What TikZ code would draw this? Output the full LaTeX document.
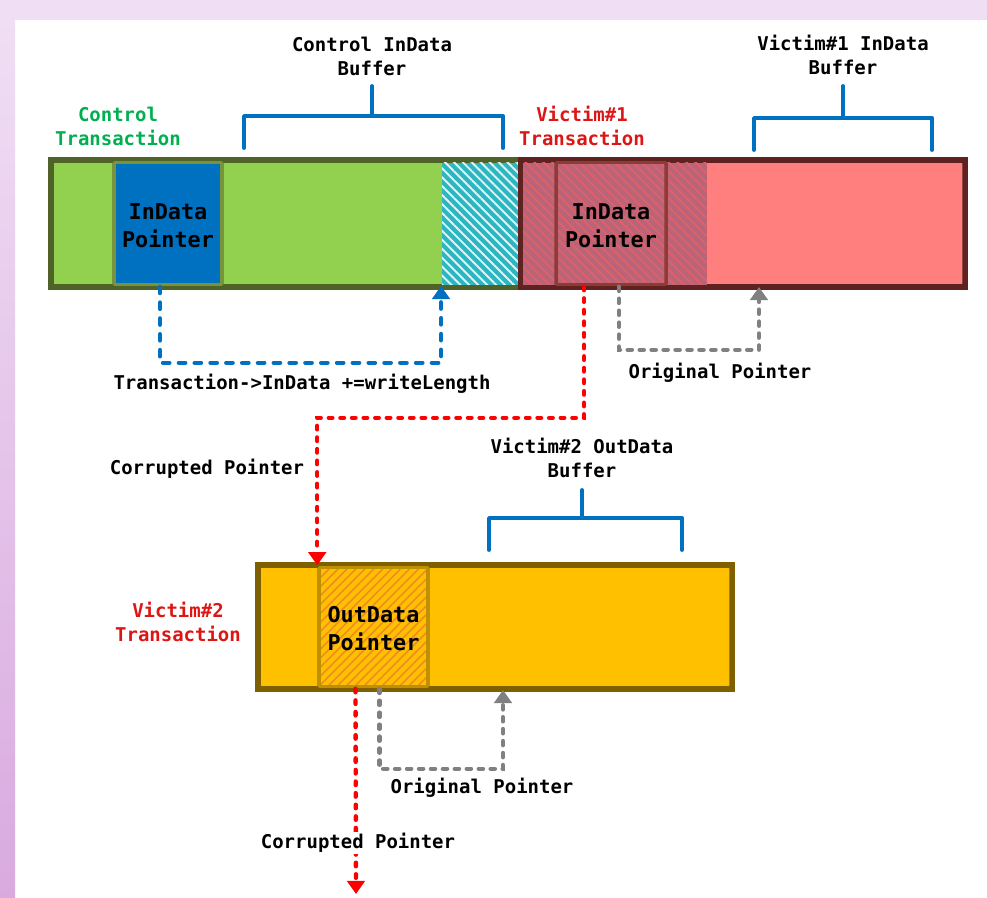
\documentclass[tikz,border=0pt]{standalone}
\usepackage{fontspec}
\usetikzlibrary{arrows.meta,fit,patterns.meta}
\newfontfamily\monofnt{DejaVu Sans Mono}

\definecolor{slidetop}{HTML}{F0DEF4}
\definecolor{slidebot}{HTML}{D9AADF}
\definecolor{ctlgreen}{HTML}{92D050}
\definecolor{ctlborder}{HTML}{4F6228}
\definecolor{ptrborder}{HTML}{77933C}
\definecolor{ptrblue}{HTML}{0070C0}
\definecolor{hatchcyan}{HTML}{2BB6C2}
\definecolor{vicpink}{HTML}{FF7F7F}
\definecolor{vicborder}{HTML}{5E2220}
\definecolor{vicptrborder}{HTML}{8E3A36}
\definecolor{vichatch}{HTML}{B86479}
\definecolor{vicstripe}{HTML}{E0606A}
\definecolor{outorange}{HTML}{FFC000}
\definecolor{outborder}{HTML}{7F6000}
\definecolor{outptrborder}{HTML}{BF9000}
\definecolor{outstripe}{HTML}{F08A24}
\definecolor{txtgreen}{HTML}{00B050}
\definecolor{txtred}{HTML}{DD1515}
\definecolor{ptrgray}{HTML}{808080}

\begin{document}
\begin{tikzpicture}[x=0.02cm,y=-0.02cm,
	font=\monofnt\bfseries\fontsize{10.8}{13.6}\selectfont,
	bar/.style={draw,line width=2pt,inner sep=0pt,rounded corners=1pt},
	hatchbox/.style={inner sep=0pt,preaction={fill=#1}},
	lbl/.style={align=center,inner sep=1pt},
	ptrtext/.style={align=center,font=\monofnt\bfseries\fontsize{12.4}{15.9}\selectfont},
	brace/.style={draw=ptrblue,line width=2.2pt,line cap=round,line join=round},
	tip/.style={-{Triangle[width=10pt,length=7.5pt]}},
	blueptr/.style={tip,draw=ptrblue,line width=2.5pt,line cap=round,dash pattern=on 3.6pt off 5.4pt},
	redptr/.style={tip,draw=red,line width=2.5pt,line cap=round,dash pattern=on 2pt off 4.6pt},
	grayptr/.style={tip,draw=ptrgray,line width=2.5pt,line cap=round,dash pattern=on 2.4pt off 4.4pt}]

	%%% Фон слайда
	\fill[slidetop] (0,0) rectangle (987,20);
	\shade[top color=slidetop,bottom color=slidebot] (0,20) rectangle (15,898);
	\useasboundingbox (0,0) rectangle (987,898);

	%%% Полосы памяти

	% Control
	\node[bar,draw=ctlborder,fill=ctlgreen,fit={(52,161) (521,286)}] (ctlbar) {};
	\node[hatchbox=hatchcyan,pattern={Lines[angle=-45,distance=3.6pt,line width=1.1pt]},pattern color=white!85!hatchcyan,fit={(442,163) (521,285)}] (ctlhatch) {};
	\node[bar,draw=ptrborder,fill=ptrblue,fit={(114,162) (222,285)}] (ctlptr) {};
	\node[ptrtext] (ctlptrtxt) at ([yshift=-0.04cm]ctlptr.center) {InData\\Pointer};
	\draw[ctlborder,line width=2pt] (ctlbar.south west) rectangle (ctlbar.north east);

	% Victim#1
	\node[bar,draw=vicborder,fill=vicpink,fit={(522,161) (964,286)}] (v1bar) {};
	\node[hatchbox=vichatch,pattern={Lines[angle=-45,distance=3.6pt,line width=1.1pt]},pattern color=vicstripe,fit={(523,163) (707,285)}] (v1hatch) {};
	\node[bar,draw=vicptrborder,fit={(556,162) (666,285)}] (v1ptr) {};
	\node[ptrtext] (v1ptrtxt) at ([yshift=-0.04cm]v1ptr.center) {InData\\Pointer};
	\draw[vicborder,line width=2pt] (v1bar.south west) rectangle (v1bar.north east);

	% Victim#2
	\node[bar,draw=outborder,fill=outorange,fit={(259,566) (731,688)}] (v2bar) {};
	\node[hatchbox=outorange,pattern={Lines[angle=45,distance=3.6pt,line width=0.9pt]},pattern color=outstripe,fit={(319,567) (428,687)}] (v2hatch) {};
	\node[bar,draw=outptrborder,fit={(319,567) (428,687)}] (v2ptr) {};
	\node[ptrtext] (v2ptrtxt) at ([yshift=-0.04cm]v2ptr.center) {OutData\\Pointer};
	\draw[outborder,line width=2pt] (v2bar.south west) rectangle (v2bar.north east);

	%%% Скобки буферов
	\draw[brace] (244,148) -- (244,116) -- (503,116) -- (503,148);
	\draw[brace] (372,116) -- (372,86);
	\draw[brace] (754,150) -- (754,118) -- (932,118) -- (932,150);
	\draw[brace] (843,118) -- (843,86);
	\draw[brace] (489,550) -- (489,518) -- (682,518) -- (682,550);
	\draw[brace] (582,518) -- (582,490);

	%%% Подписи
	\node[lbl] (ctlbuf) at (372,56) {Control InData\\Buffer};
	\node[lbl] (v1buf) at (843,55) {Victim\#1 InData\\Buffer};
	\node[lbl] (v2buf) at (582,458) {Victim\#2 OutData\\Buffer};
	\node[lbl,text=txtgreen] (ctltrans) at (118,126) {Control\\Transaction};
	\node[lbl,text=txtred] (v1trans) at (582,126) {Victim\#1\\Transaction};
	\node[lbl,text=txtred] (v2trans) at (178,622) {Victim\#2\\Transaction};

	%%% Указатели
	\coordinate (v1orig) at (759,287);
	\coordinate (v2orig) at (503,690);
	\coordinate (v2next) at (356,894);

	\draw[blueptr] ([xshift=-0.16cm]ctlptr.south) -- ++(0,76) -| (ctlhatch.south west);
	\draw[grayptr] ([xshift=0.16cm]v1ptr.south) -- ++(0,63) -| (v1orig);
	\draw[redptr] ([xshift=-0.54cm]v1ptr.south) -- ++(0,131) -| (v2ptr.north west);
	\draw[grayptr] ([xshift=0.12cm]v2ptr.south) -- ++(0,80) -| (v2orig);
	\draw[redptr] ([xshift=-0.36cm]v2ptr.south) -- (v2next);

	\node[lbl] (incr) at (302,384) {Transaction->InData +=writeLength};
	\node[lbl] (orig1) at (720,373) {Original Pointer};
	\node[lbl] (corr1) at (207,469) {Corrupted Pointer};
	\node[lbl] (orig2) at (482,788) {Original Pointer};
	\node[lbl,fill=white] (corr2) at (358,843) {Corrupted Pointer};
\end{tikzpicture}
\end{document}
